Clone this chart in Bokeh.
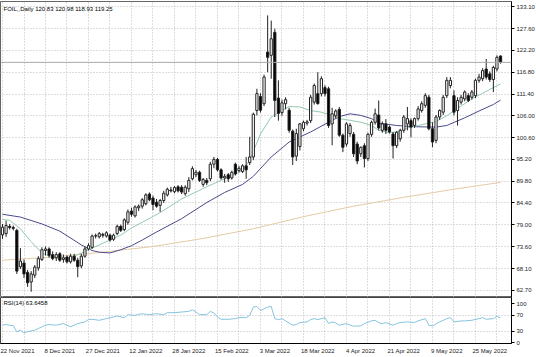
from bokeh.plotting import figure
from bokeh.models import ColumnDataSource, FixedTicker, Label, Span, Range1d, NumeralTickFormatter
from bokeh.layouts import column
from bokeh.embed import file_html
from bokeh.resources import INLINE

# ---------------- data ----------------
opens = [76.5, 76.8, 78.6, 78.3, 77.6, 68.6, 69.5, 67.2, 64.8, 66.5,
         68.3, 70.4, 72.6, 73.0, 71.6, 70.8, 71.8, 70.4, 71.0, 69.8,
         71.2, 70.2, 68.8, 71.2, 73.0, 73.4, 76.2, 76.0, 76.6, 76.2,
         76.4, 75.4, 76.8, 78.6, 77.8, 79.6, 82.4, 81.2, 83.2, 83.6,
         84.2, 86.6, 85.6, 84.6, 83.8, 85.0, 86.4, 87.6, 87.2, 88.4,
         88.3, 86.7, 87.9, 90.4, 91.4, 92.0, 89.0, 90.0, 90.4, 94.0,
         95.2, 92.6, 90.6, 91.4, 90.6, 94.0, 92.4, 92.2, 93.6, 94.4,
         95.8, 107.3, 110.8, 109.0, 121.8, 121.0, 126.7, 110.4, 106.8, 109.0,
         107.4, 102.2, 96.0, 98.4, 102.8, 104.2, 104.8, 109.4, 111.5, 111.5,
         113.0, 112.7, 104.0, 106.0, 107.6, 101.2, 99.0, 101.6, 101.4, 99.0,
         96.6, 98.6, 95.4, 101.4, 104.4, 106.2, 102.4, 104.0, 103.2, 101.5,
         98.6, 100.3, 102.4, 104.0, 104.8, 103.6, 105.3, 107.3, 108.6, 110.6,
         102.8, 99.9, 105.7, 106.9, 111.0, 113.5, 111.0, 107.3, 109.4, 110.2,
         111.0, 110.6, 111.0, 114.8, 115.2, 117.6, 116.4, 115.0, 117.6, 120.83]
highs = [79.2, 80.0, 79.2, 78.8, 78.0, 73.2, 70.4, 67.8, 67.5, 69.0,
         71.2, 73.4, 73.6, 73.4, 72.4, 72.2, 72.2, 71.6, 71.4, 71.8,
         71.8, 70.8, 71.8, 73.6, 74.4, 76.6, 76.8, 77.2, 77.0, 77.4,
         76.8, 76.8, 79.0, 79.0, 80.6, 82.8, 83.2, 83.8, 84.0, 85.6,
         86.8, 87.0, 86.2, 85.4, 85.4, 87.4, 88.2, 88.4, 88.6, 88.8,
         88.8, 88.8, 90.8, 93.5, 92.6, 92.4, 90.6, 90.6, 94.6, 95.8,
         95.6, 93.0, 91.6, 91.8, 92.4, 94.4, 93.6, 94.0, 95.8, 100.8,
         106.8, 112.7, 111.6, 116.2, 130.9, 129.6, 127.6, 114.8, 110.0, 110.6,
         108.0, 102.6, 102.8, 104.2, 104.8, 105.0, 111.2, 114.0, 116.8, 115.8,
         113.6, 113.2, 108.0, 107.6, 108.2, 101.6, 104.4, 104.2, 102.0, 99.6,
         98.4, 99.2, 101.8, 104.8, 107.8, 109.8, 104.6, 105.2, 103.6, 102.0,
         102.2, 102.8, 106.2, 108.2, 105.4, 105.6, 108.4, 109.6, 111.6, 111.2,
         104.4, 106.2, 107.6, 111.2, 115.6, 115.6, 112.3, 110.6, 111.2, 112.3,
         111.6, 112.4, 115.2, 116.4, 117.8, 120.1, 117.0, 118.4, 121.0, 120.98]
lows = [75.5, 76.0, 77.8, 77.6, 66.8, 68.0, 65.8, 63.6, 62.4, 65.8,
        67.6, 70.0, 71.4, 70.8, 70.2, 70.0, 69.8, 69.6, 69.4, 69.4,
        69.8, 66.0, 68.2, 70.8, 72.6, 73.0, 75.6, 75.6, 75.8, 75.8,
        74.8, 75.0, 76.4, 77.2, 77.4, 79.0, 81.0, 80.8, 82.4, 83.0,
        83.8, 84.8, 82.6, 83.2, 82.2, 84.4, 86.0, 87.0, 86.8, 87.0,
        86.6, 86.2, 87.1, 90.0, 90.8, 89.6, 88.4, 88.8, 89.8, 93.0,
        92.2, 90.2, 89.4, 89.6, 90.2, 91.2, 92.0, 91.8, 90.4, 93.8,
        95.0, 106.1, 106.8, 108.4, 116.8, 115.2, 105.7, 104.8, 106.0, 107.6,
        101.8, 93.8, 94.8, 97.4, 102.2, 103.6, 104.2, 108.8, 108.8, 110.8,
        110.8, 103.0, 98.7, 105.4, 100.8, 97.0, 98.4, 100.8, 95.8, 94.0,
        95.8, 93.2, 94.8, 100.8, 103.8, 102.4, 101.8, 101.5, 101.6, 95.4,
        98.0, 99.6, 101.8, 102.4, 100.7, 103.0, 104.8, 106.8, 108.0, 102.4,
        98.2, 99.2, 105.0, 106.2, 110.4, 112.8, 106.1, 103.6, 108.8, 109.6,
        109.4, 110.0, 110.4, 114.2, 114.6, 115.0, 114.4, 111.9, 117.0, 118.93]
closes = [78.4, 78.8, 78.3, 78.1, 67.5, 70.0, 66.8, 64.6, 66.8, 68.5,
          70.6, 72.8, 73.0, 71.4, 70.6, 71.6, 70.2, 70.8, 69.8, 71.2,
          70.2, 68.6, 71.2, 73.0, 73.8, 76.2, 76.3, 76.8, 76.4, 77.0,
          75.2, 76.4, 78.6, 77.6, 80.2, 82.2, 81.6, 83.4, 83.6, 85.2,
          86.4, 85.2, 84.0, 83.6, 85.0, 86.8, 87.8, 87.4, 88.2, 87.4,
          87.1, 88.3, 90.0, 92.9, 92.0, 90.0, 90.2, 89.4, 94.0, 95.2,
          92.6, 90.6, 91.0, 90.4, 92.0, 91.6, 93.0, 93.6, 92.6, 95.8,
          106.4, 111.5, 107.4, 115.6, 120.5, 125.1, 109.8, 106.6, 109.2, 110.0,
          102.4, 95.8, 101.6, 104.0, 104.4, 104.5, 110.6, 113.5, 109.0, 115.2,
          111.5, 103.6, 106.5, 107.2, 101.2, 98.2, 104.0, 103.6, 96.6, 94.8,
          98.2, 95.4, 101.4, 104.4, 106.5, 103.0, 104.0, 102.4, 102.0, 98.6,
          101.9, 102.4, 105.7, 105.3, 103.2, 105.3, 107.7, 109.0, 111.0, 102.8,
          99.5, 105.7, 107.3, 110.6, 114.8, 114.8, 106.9, 109.8, 110.6, 111.9,
          109.8, 111.9, 114.8, 115.6, 117.2, 115.6, 115.0, 118.0, 120.5, 119.25]

# moving averages, read at sampled bars
fast_ma_idx = [0, 2, 5, 8, 11, 13, 16, 19, 22, 25, 27, 30, 33, 36, 39, 44, 50, 57, 62, 67,
               69, 72, 75, 78, 80, 83, 86, 89, 92, 94, 97, 100, 103, 105, 108, 110, 113,
               116, 119, 121, 124, 128, 131, 134, 137, 139]
fast_ma = [80.3, 80.1, 78.0, 74.8, 72.0, 71.2, 70.6, 70.8, 72.0, 73.2, 74.0, 75.2, 76.4,
           78.2, 79.6, 82.0, 85.4, 88.4, 90.4, 92.4, 95.0, 101.5, 105.7, 107.3, 108.3,
           108.2, 107.3, 106.9, 106.1, 105.3, 104.9, 104.4, 103.6, 102.4, 101.8, 102.0,
           103.0, 103.6, 104.2, 104.6, 106.0, 108.4, 110.2, 111.6, 113.0, 113.9]
slow_ma_idx = [0, 5, 11, 16, 22, 25, 27, 30, 33, 36, 39, 43, 50, 57, 62, 67, 70, 75, 80,
               86, 91, 94, 97, 100, 103, 105, 110, 115, 121, 124, 129, 133, 137, 139]
slow_ma = [81.6, 80.9, 79.2, 77.4, 74.0, 72.6, 72.2, 72.0, 72.8, 73.8, 75.2, 77.2, 80.5,
           84.5, 87.0, 89.0, 91.0, 95.8, 99.5, 102.0, 104.4, 105.8, 106.5, 106.1, 105.3,
           104.2, 103.6, 103.3, 103.2, 103.6, 105.5, 107.2, 108.8, 109.9]
long_ma_idx = [0, 14, 28, 42, 56, 70, 84, 98, 112, 126, 139]
long_ma = [70.2, 71.0, 72.2, 73.6, 75.6, 78.0, 81.0, 83.6, 85.8, 87.8, 89.5]

rsi_idx = [0, 1, 2, 3, 4, 5, 6, 7, 9, 10, 12, 13, 15, 17, 18, 19, 21, 23, 24, 25, 27, 29,
           31, 32, 34, 35, 37, 38, 39, 41, 43, 45, 46, 48, 50, 52, 53, 54, 55, 57, 58, 59,
           60, 61, 63, 65, 66, 68, 69, 70, 71, 72, 73, 74, 75, 76, 77, 78, 79, 81, 82, 83,
           85, 86, 87, 88, 90, 91, 92, 93, 94, 96, 97, 98, 100, 101, 103, 104, 105, 106,
           107, 109, 110, 111, 113, 115, 116, 118, 119, 120, 122, 123, 124, 125, 126, 128,
           129, 131, 133, 134, 135, 137, 138, 139]
rsi_val = [45.0, 46.7, 45.0, 44.0, 28.4, 32.5, 25.9, 28.4, 32.5, 36.7, 45.0, 46.7, 45.0,
           49.2, 45.0, 40.9, 49.2, 53.4, 59.2, 60.0, 57.5, 61.7, 65.9, 68.4, 64.2, 71.7,
           70.0, 72.5, 74.2, 71.7, 74.2, 71.7, 76.7, 76.7, 78.4, 80.0, 84.2, 78.4, 71.7,
           71.7, 80.0, 75.9, 65.9, 60.0, 60.0, 61.7, 64.2, 64.2, 70.0, 90.9, 92.5, 82.5,
           86.7, 90.9, 92.5, 61.7, 59.2, 61.7, 55.9, 45.0, 46.7, 51.7, 53.4, 59.2, 61.7,
           59.2, 64.2, 49.2, 53.4, 50.9, 45.0, 49.2, 45.0, 42.5, 43.4, 49.2, 55.9, 57.5,
           51.7, 49.2, 51.7, 45.0, 49.2, 51.7, 53.4, 51.7, 55.9, 61.7, 45.0, 43.4, 53.4,
           57.5, 61.7, 64.2, 53.4, 55.9, 55.9, 57.5, 61.7, 64.2, 60.0, 61.7, 67.5, 63.6]

date_idx = [0, 12, 24, 36, 48, 60, 72, 84, 96, 108, 120, 132]
date_labels = ["22 Nov 2021", "8 Dec 2021", "27 Dec 2021", "12 Jan 2022", "28 Jan 2022",
               "15 Feb 2022", "3 Mar 2022", "18 Mar 2022", "4 Apr 2022", "21 Apr 2022",
               "9 May 2022", "25 May 2022"]
price_ticks = [62.7, 68.1, 73.6, 79.0, 84.4, 89.8, 95.2, 100.6, 106.0, 111.4, 116.8,
               122.2, 127.6, 133.1]
rsi_ticks = [0, 30, 70, 100]
symbol_title = "FOIL,,Daily 120.83 120.98 118.93 119.25"
rsi_title = "RSI(14) 63.6458"
last_price = 119.25

# ---------------- build ----------------
FONT = "Liberation Sans"
FS = "6px"
GRID = "#bdbdbd"
n = len(closes)
idx = list(range(n))
up = [c >= o for o, c in zip(opens, closes)]
src = ColumnDataSource(dict(
    x=idx, o=opens, h=highs, l=lows, c=closes,
    top=[max(o, c) for o, c in zip(opens, closes)],
    bot=[min(o, c) for o, c in zip(opens, closes)],
    fill=["white" if u else "black" for u in up],
))

xr = Range1d(-0.56, 142.06)
grid_ticks = list(range(0, n, 6))
# MT4 writes each date starting at its bar: shift the centred axis label by half its width
label_shift = 4.0
date_ticks = [i + label_shift for i in date_idx]

p = figure(frame_width=511, frame_height=296, x_range=xr, y_range=Range1d(60.96, 134.34),
           toolbar_location=None, output_backend="svg", y_axis_location="right",
           x_axis_location=None, min_border_left=0, min_border_top=1,
           min_border_bottom=0, min_border_right=0, background_fill_color="white")
p.outline_line_color = "#666666"
yax = p.yaxis[0]
yax.ticker = FixedTicker(ticks=price_ticks)
yax.formatter = NumeralTickFormatter(format="0.00")
yax.axis_line_color = "black"
yax.major_tick_out = 3
yax.major_tick_in = 0
yax.minor_tick_out = 0
yax.major_tick_line_color = "black"
yax.major_label_text_font = FONT
yax.major_label_text_font_size = FS
yax.major_label_text_color = "#222222"
yax.major_label_standoff = 2
p.ygrid.grid_line_color = GRID
p.ygrid.grid_line_dash = "1 2"
p.xgrid.ticker = FixedTicker(ticks=grid_ticks)
p.xgrid.grid_line_color = GRID
p.xgrid.grid_line_dash = "1 2"

p.add_layout(Span(location=last_price, dimension="width", line_color="#a8a8a8", line_width=1))
p.line(long_ma_idx, long_ma, line_color="#e3cba4", line_width=1)
p.line(slow_ma_idx, slow_ma, line_color="#4a4a8c", line_width=1)
p.line(fast_ma_idx, fast_ma, line_color="#93c9ad", line_width=1)
p.segment(x0="x", y0="l", x1="x", y1="h", source=src, line_color="#222222", line_width=1)
p.vbar(x="x", width=0.62, top="top", bottom="bot", source=src,
       fill_color="fill", line_color="#222222", line_width=1)

p.add_layout(Label(x=3, y=292, x_units="screen", y_units="screen", text=symbol_title,
                   text_font=FONT, text_font_size=FS, text_color="black",
                   text_baseline="top"))
p.add_layout(Label(x=513, y=last_price, x_units="screen", text="119.25",
                   text_font=FONT, text_font_size=FS, text_color="white",
                   text_baseline="middle", background_fill_color="black",
                   padding=1))

r = figure(frame_width=511, frame_height=46, x_range=xr, y_range=Range1d(-1.3, 115.2),
           toolbar_location=None, output_backend="svg", y_axis_location="right",
           x_axis_location="below", min_border_left=0, min_border_top=0,
           min_border_bottom=0, min_border_right=0, background_fill_color="white")
r.outline_line_color = "#444444"
ry = r.yaxis[0]
ry.ticker = FixedTicker(ticks=rsi_ticks)
ry.axis_line_color = "black"
ry.major_tick_out = 3
ry.major_tick_in = 0
ry.minor_tick_out = 0
ry.major_label_text_font = FONT
ry.major_label_text_font_size = FS
ry.major_label_text_color = "#222222"
ry.major_label_standoff = 2
rx = r.xaxis[0]
rx.ticker = FixedTicker(ticks=date_ticks)
rx.major_label_overrides = {t: s for t, s in zip(date_ticks, date_labels)}
rx.axis_line_color = "black"
rx.major_tick_out = 0
rx.major_tick_in = 0
rx.minor_tick_out = 0
rx.major_label_text_font = FONT
rx.major_label_text_font_size = FS
rx.major_label_text_color = "#222222"
rx.major_label_standoff = 4
r.xgrid.ticker = FixedTicker(ticks=grid_ticks)
r.xgrid.grid_line_color = GRID
r.xgrid.grid_line_dash = "1 2"
r.ygrid.ticker = FixedTicker(ticks=[30, 70])
r.ygrid.grid_line_color = GRID
r.ygrid.grid_line_dash = "1 2"
r.line(rsi_idx, rsi_val, line_color="#86c3e0", line_width=1)
r.add_layout(Label(x=3, y=44, x_units="screen", y_units="screen", text=rsi_title,
                   text_font=FONT, text_font_size=FS, text_color="black",
                   text_baseline="top"))

layout = column(p, r, spacing=0)
open("out.html", "w").write(file_html(layout, INLINE))
